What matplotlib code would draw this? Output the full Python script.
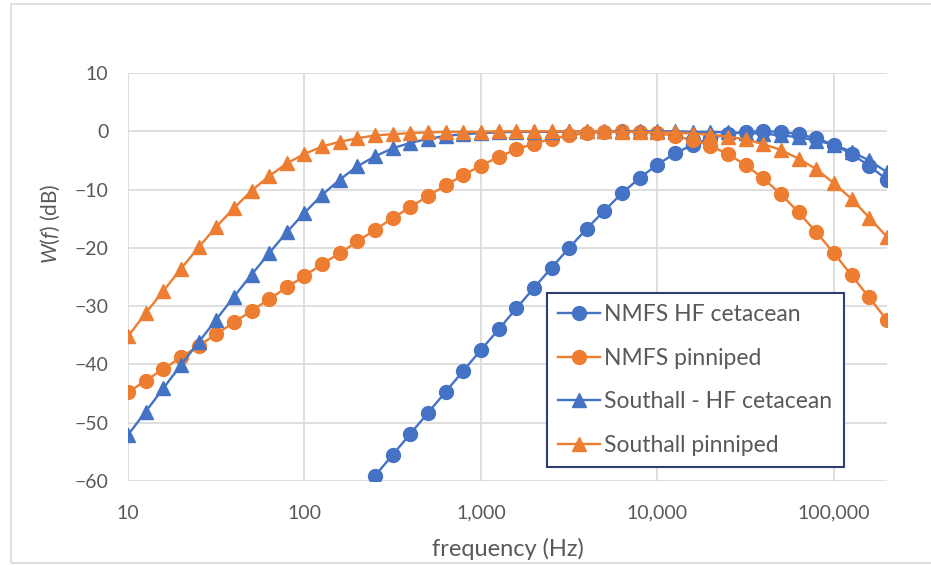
import matplotlib
matplotlib.use('Agg')
import matplotlib.pyplot as plt
from matplotlib.patches import Rectangle
from matplotlib.ticker import FuncFormatter, NullLocator

plt.rcParams['font.family'] = ['Lato', 'DejaVu Sans']
plt.rcParams['mathtext.fontset'] = 'custom'
plt.rcParams['mathtext.it'] = 'Lato:italic'
plt.rcParams['mathtext.rm'] = 'Lato'

# frequencies, ten per decade from 10 Hz to 200 kHz
freq = [10, 12.59, 15.85, 19.95, 25.12, 31.62, 39.81, 50.12, 63.10, 79.43,
        100, 125.9, 158.5, 199.5, 251.2, 316.2, 398.1, 501.2, 631.0, 794.3,
        1000, 1259, 1585, 1995, 2512, 3162, 3981, 5012, 6310, 7943,
        10000, 12589, 15849, 19953, 25119, 31623, 39811, 50119, 63096, 79433,
        100000, 125893, 158489, 199526]

# NMFS HF cetacean starts at 251 Hz
nmfs_hf_freq = freq[14:]
nmfs_hf = [-59.1, -55.5, -51.9, -48.3, -44.7, -41.1, -37.5, -34.0, -30.4, -26.9,
           -23.4, -20.0, -16.7, -13.6, -10.6, -8.0, -5.7, -3.8, -2.3, -1.2,
           -0.5, -0.1, 0.0, -0.1, -0.5, -1.2, -2.3, -3.9, -5.9, -8.3]

nmfs_pinniped = [-44.8, -42.8, -40.8, -38.8, -36.8, -34.8, -32.8, -30.8, -28.8, -26.8,
                 -24.8, -22.8, -20.9, -18.9, -16.9, -14.9, -13.0, -11.1, -9.3, -7.5,
                 -5.9, -4.4, -3.1, -2.1, -1.3, -0.7, -0.3, -0.1, 0.0, -0.1,
                 -0.3, -0.8, -1.5, -2.5, -3.9, -5.8, -8.1, -10.8, -13.9, -17.3,
                 -20.9, -24.7, -28.5, -32.4]

southall_hf = [-52.1, -48.1, -44.1, -40.1, -36.2, -32.3, -28.4, -24.6, -20.9, -17.3,
               -14.0, -10.9, -8.3, -6.0, -4.3, -2.9, -2.0, -1.3, -0.8, -0.5,
               -0.3, -0.2, -0.1, -0.1, -0.1, 0.0, 0.0, 0.0, 0.0, 0.0,
               0.0, 0.0, -0.1, -0.1, -0.2, -0.3, -0.4, -0.7, -1.0, -1.6,
               -2.3, -3.5, -5.0, -7.0]

southall_pinniped = [-35.2, -31.2, -27.4, -23.6, -19.9, -16.4, -13.2, -10.2, -7.7, -5.5,
                     -3.9, -2.6, -1.8, -1.2, -0.7, -0.5, -0.3, -0.2, -0.1, -0.1,
                     -0.1, 0.0, 0.0, 0.0, 0.0, 0.0, 0.0, 0.0, -0.1, -0.1,
                     -0.2, -0.2, -0.4, -0.6, -0.9, -1.4, -2.2, -3.2, -4.7, -6.5,
                     -8.9, -11.6, -14.8, -18.1]

x_ticks = [10, 100, 1000, 10000, 100000]
y_ticks = [-60, -50, -40, -30, -20, -10, 0, 10]

blue = '#4472C4'
orange = '#ED7D31'
grey_text = '#595959'

fig = plt.figure(figsize=(9.31, 5.65), dpi=100)
ax = fig.add_axes([128 / 931, 1 - 481 / 565, (887 - 128) / 931, (481 - 73) / 565])

ax.plot(nmfs_hf_freq, nmfs_hf, color=blue, marker='o', markersize=10, lw=1.7,
        label='NMFS HF cetacean')
ax.plot(freq, nmfs_pinniped, color=orange, marker='o', markersize=10, lw=1.7,
        label='NMFS pinniped')
ax.plot(freq, southall_hf, color=blue, marker='^', markersize=10, lw=1.7,
        label='Southall - HF cetacean')
ax.plot(freq, southall_pinniped, color=orange, marker='^', markersize=10, lw=1.7,
        label='Southall pinniped')

ax.set_xscale('log')
ax.set_xlim(10, 200000)
ax.set_ylim(-60, 10)
ax.set_xticks(x_ticks)
ax.xaxis.set_major_formatter(FuncFormatter(lambda v, p: f'{v:,.0f}'))
ax.xaxis.set_minor_locator(NullLocator())
ax.set_yticks(y_ticks)
ax.grid(True, color='#D9D9D9', lw=1.2)
ax.set_axisbelow(True)
for s in ax.spines.values():
    s.set_visible(False)
ax.tick_params(length=0, labelsize=14, colors=grey_text)
ax.tick_params(axis='x', pad=17)
ax.tick_params(axis='y', pad=14)

ax.set_xlabel('frequency (Hz)', fontsize=17, color=grey_text, labelpad=12)
ax.set_ylabel(r'$W$($f$) (dB)', fontsize=15, color=grey_text)
ax.yaxis.set_label_coords(-0.087, 0.63)

leg = ax.legend(loc='upper left', bbox_to_anchor=((547 - 128) / 759, (481 - 293) / 408),
                fontsize=16.5, frameon=True, fancybox=False, handlelength=1.8,
                labelspacing=0.98, borderpad=0.5, handletextpad=0.2,
                borderaxespad=0, framealpha=1)
leg.get_frame().set_edgecolor('#2F3F6F')
leg.get_frame().set_linewidth(1.5)
for t in leg.get_texts():
    t.set_color(grey_text)

fig.patches.append(Rectangle((11 / 931, 1 - 563 / 565), 1.0, (563 - 4) / 565,
                             transform=fig.transFigure, fill=False,
                             edgecolor='#D9D9D9', lw=1.2))

fig.savefig('out.png', dpi=100)
